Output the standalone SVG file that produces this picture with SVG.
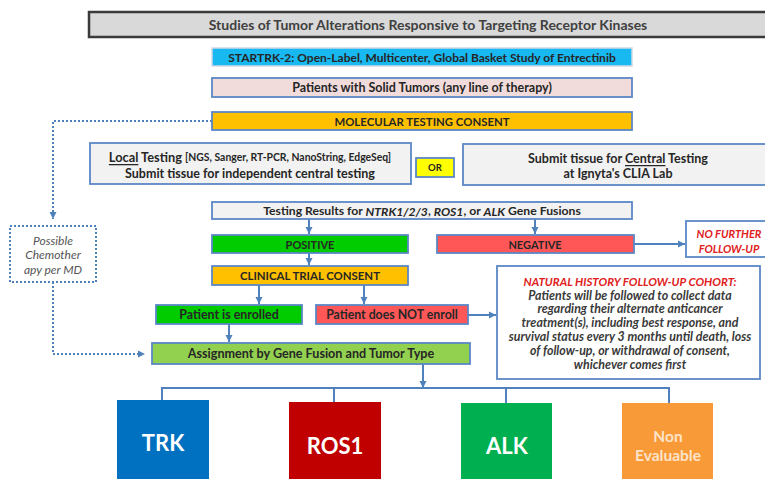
<svg xmlns="http://www.w3.org/2000/svg" width="765" height="479" viewBox="0 0 765 479">
<style>
text{font-family:Lato,"Liberation Sans",Arial,sans-serif;dominant-baseline:central;text-anchor:middle;fill:#262626}
.b{font-weight:bold}
.box{stroke:#5b87c6;stroke-width:1.8}
.conn{fill:none;stroke:#4f81bd;stroke-width:2}
.dot{fill:none;stroke:#4f81bd;stroke-width:2;stroke-dasharray:2 2}
.it{font-style:italic}
.red{fill:#e0201c}
.big{font-weight:bold;fill:#fff;font-size:22px}
.nh{font-weight:bold;font-style:italic;font-size:12.4px;fill:#3a3a3a}
.ttl{fill:#404040}
.pos{font-style:italic;font-size:12px;fill:#555}
.ne{font-weight:bold;font-size:15.5px;fill:#fde3c8}
</style>
<defs>
<marker id="ah" markerUnits="userSpaceOnUse" markerWidth="8" markerHeight="8" refX="7" refY="4" orient="auto">
<path d="M0,0.5 L7,4 L0,7.5 z" fill="#4f81bd"/>
</marker>
</defs>
<rect width="765" height="479" fill="#fff"/>

<g id="connectors">
<path class="dot" d="M212,121 H53 V219" marker-end="url(#ah)"/>
<path class="dot" d="M53,282 V354 H145" marker-end="url(#ah)"/>
<path class="conn" d="M309,219 V234" marker-end="url(#ah)"/>
<path class="conn" d="M535,219 V234" marker-end="url(#ah)"/>
<path class="conn" d="M634,244 H685" marker-end="url(#ah)"/>
<path class="conn" d="M309,253 V265" marker-end="url(#ah)"/>
<path class="conn" d="M259,285 V304" marker-end="url(#ah)"/>
<path class="conn" d="M364,285 V304" marker-end="url(#ah)"/>
<path class="conn" d="M468,315 H496" marker-end="url(#ah)"/>
<path class="conn" d="M229,324 V342" marker-end="url(#ah)"/>
<path class="conn" d="M423,364 V388" marker-end="url(#ah)"/>
<path class="conn" d="M162,401 V388 H669 V404 M334,388 V403 M506,388 V404"/>
</g>

<g id="title">
<rect x="89" y="12" width="690" height="25" fill="#d9d9d9" stroke="#3a3a3a" stroke-width="2.5"/>
<text x="428" y="24.5" class="b ttl" font-size="14">Studies of Tumor Alterations Responsive to Targeting Receptor Kinases</text>
</g>
<g id="startrk">
<rect x="212" y="48" width="420" height="18" fill="#18b8f0" stroke="#d0d8e8" stroke-width="1.5"/>
<text x="422" y="57" class="b" font-size="12">STARTRK-2:  Open-Label, Multicenter, Global Basket Study of Entrectinib</text>
</g>
<g id="patients">
<rect x="212" y="78" width="420" height="19" fill="#f2dcdb" class="box"/>
<text x="422" y="87.5" class="b" font-size="12.5">Patients with Solid Tumors (any line of therapy)</text>
</g>
<g id="molecular">
<rect x="212" y="112" width="420" height="18" fill="#ffc000" class="box"/>
<text x="422" y="121" class="b" font-size="11.4">MOLECULAR TESTING CONSENT</text>
</g>
<g id="local">
<rect x="90" y="143" width="321" height="41" fill="#f2f2f2" class="box"/>
<text x="250" y="157" class="b" font-size="12.8"><tspan text-decoration="underline">Local</tspan> Testing <tspan font-size="10.4">[NGS, Sanger, RT-PCR, NanoString, EdgeSeq]</tspan></text>
<text x="250" y="173" class="b" font-size="12.5">Submit tissue for independent central testing</text>
</g>
<g id="or">
<rect x="416" y="158" width="38" height="19" fill="#ffff00" class="box"/>
<text x="435" y="167.5" class="b" font-size="9.5">OR</text>
</g>
<g id="central">
<rect x="463" y="144" width="310" height="41" fill="#f2f2f2" class="box"/>
<text x="618" y="158" class="b" font-size="12.5">Submit tissue for <tspan text-decoration="underline">Central</tspan> Testing</text>
<text x="618" y="173" class="b" font-size="12.5">at Ignyta's CLIA Lab</text>
</g>
<g id="results">
<rect x="212" y="202" width="420" height="17" fill="#f2f2f2" class="box"/>
<text x="422" y="210.5" class="b" font-size="12.2">Testing Results for <tspan class="it">NTRK1/2/3</tspan>, <tspan class="it">ROS1</tspan>, or <tspan class="it">ALK</tspan> Gene Fusions</text>
</g>
<g id="positive">
<rect x="212" y="235" width="196" height="18" fill="#00cc00" class="box"/>
<text x="310" y="244" class="b" font-size="11">POSITIVE</text>
</g>
<g id="negative">
<rect x="437" y="235" width="197" height="18" fill="#ff5757" class="box"/>
<text x="535" y="244" class="b" font-size="11">NEGATIVE</text>
</g>
<g id="nofurther">
<rect x="686" y="221" width="90" height="36" fill="#fff" class="box"/>
<text x="729" y="233" class="b it red" font-size="11">NO FURTHER</text>
<text x="729" y="248" class="b it red" font-size="11">FOLLOW-UP</text>
</g>
<g id="clinical">
<rect x="212" y="266" width="196" height="19" fill="#ffc000" class="box"/>
<text x="310" y="275.5" class="b" font-size="11.4">CLINICAL TRIAL CONSENT</text>
</g>
<g id="enrolled">
<rect x="156" y="305" width="146" height="19" fill="#00cc00" class="box"/>
<text x="229" y="314.5" class="b" font-size="12.4">Patient is enrolled</text>
</g>
<g id="notenroll">
<rect x="316" y="305" width="152" height="19" fill="#ff5757" class="box"/>
<text x="392" y="314.5" class="b" font-size="12.3">Patient does NOT enroll</text>
</g>
<g id="natural">
<rect x="497" y="266" width="263" height="113" fill="#fff" class="box" stroke-width="2"/>
<text x="630" y="281" class="b it red" font-size="11.5">NATURAL HISTORY FOLLOW-UP COHORT:</text>
<text x="630" y="295" class="nh">Patients will be followed to collect data</text>
<text x="630" y="308.5" class="nh">regarding their alternate anticancer</text>
<text x="630" y="322" class="nh">treatment(s), including best response, and</text>
<text x="630" y="336.5" class="nh">survival status every 3 months until death, loss</text>
<text x="630" y="350.5" class="nh">of follow-up, or withdrawal of consent,</text>
<text x="630" y="364" class="nh">whichever comes first</text>
</g>
<g id="possible">
<rect x="10" y="226" width="86" height="56" fill="#fff" class="dot"/>
<text x="53" y="240" class="pos">Possible</text>
<text x="53" y="254" class="pos">Chemother</text>
<text x="53" y="269" class="pos">apy per MD</text>
</g>
<g id="assignment">
<rect x="152" y="343" width="318" height="21" fill="#92d050" class="box"/>
<text x="311" y="353.5" class="b" font-size="12.6">Assignment by Gene Fusion and Tumor Type</text>
</g>
<g id="trk">
<rect x="117" y="400" width="92" height="82" fill="#0070c0"/>
<text x="163" y="442" class="big">TRK</text>
</g>
<g id="ros1">
<rect x="289" y="402" width="92" height="80" fill="#c00000"/>
<text x="335" y="445" class="big">ROS1</text>
</g>
<g id="alk">
<rect x="461" y="403" width="91" height="79" fill="#00b050"/>
<text x="507" y="445" class="big">ALK</text>
</g>
<g id="noneval">
<rect x="622" y="403" width="91" height="79" fill="#f99a38"/>
<text x="668" y="436" class="ne">Non</text>
<text x="668" y="455" class="ne">Evaluable</text>
</g>
</svg>
